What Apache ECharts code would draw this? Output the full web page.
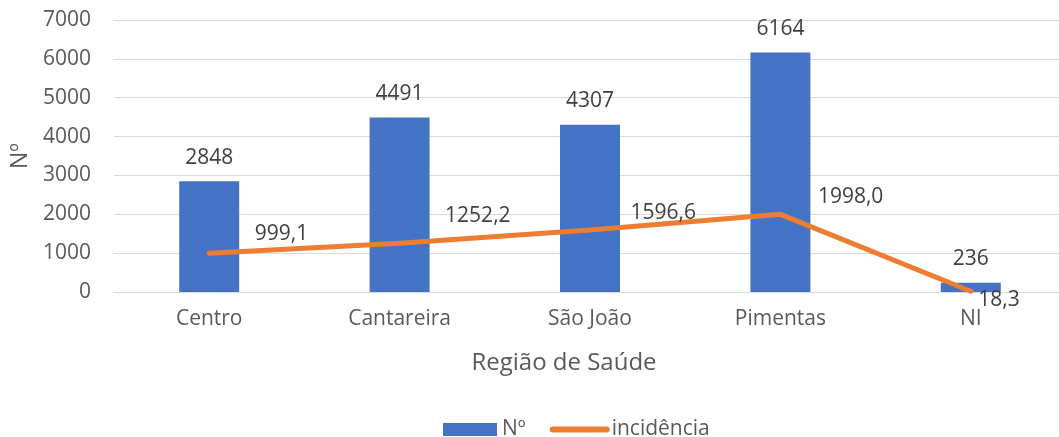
<!DOCTYPE html>
<html>
<head>
<meta charset="utf-8">
<script src="https://cdn.jsdelivr.net/npm/echarts@6/dist/echarts.min.js"></script>
<style>
  html, body { margin: 0; padding: 0; background: #fff; }
  #chart { width: 1059px; height: 437px; }
</style>
</head>
<body>
<div id="chart"></div>
<script>
// dados do gráfico
const regioes = ['Centro', 'Cantareira', 'São João', 'Pimentas', 'NI']
const casos = [2848, 4491, 4307, 6164, 236]
const incidencia = [999.1, 1252.2, 1596.6, 1998.0, 18.3]
const yTicks = [0, 1000, 2000, 3000, 4000, 5000, 6000, 7000]

// deslocamento dos rótulos da linha (só estilo)
const lineLabelOffset = [[0, -19], [0, -27], [-5, -17], [-8, -17], [-38, 9]]

const fonte = '"Open Sans", sans-serif'
const chart = echarts.init(document.getElementById('chart'))

chart.setOption({
    animation: false,
    textStyle: { fontFamily: fonte },
    grid: {
        left: 114,
        top: 20,
        width: 952,
        height: 272,
        outerBoundsMode: 'none',
    },
    legend: {
        bottom: -3,
        left: 443,
        padding: 0,
        itemWidth: 54,
        itemHeight: 13,
        itemGap: 24,
        textStyle: { fontSize: 21, color: '#595959', fontFamily: fonte },
        data: [
            { name: 'Nº', icon: 'rect' },
            { name: 'incidência', lineStyle: { width: 6, cap: 'round' } },
        ],
    },
    xAxis: {
        type: 'category',
        data: regioes,
        name: 'Região de Saúde',
        nameLocation: 'middle',
        nameGap: 59,
        nameTextStyle: { fontSize: 24, color: '#595959', padding: [0, 52, 0, 0] },
        axisLine: { lineStyle: { color: '#D9D9D9', width: 1 } },
        axisTick: { show: false },
        axisLabel: { fontSize: 21, color: '#595959', margin: 17 },
    },
    yAxis: {
        type: 'value',
        min: yTicks[0],
        max: yTicks[yTicks.length - 1],
        interval: 1000,
        name: 'Nº',
        nameLocation: 'middle',
        nameGap: 81,
        nameRotate: 90,
        nameTextStyle: { fontSize: 23, color: '#595959' },
        axisLabel: { fontSize: 21, color: '#595959', margin: 23, formatter: v => String(v) },
        splitLine: { lineStyle: { color: '#D9D9D9', width: 1 } },
    },
    series: [
        {
            name: 'Nº',
            type: 'bar',
            barWidth: 60,
            data: casos,
            itemStyle: { color: '#4472C4' },
            label: {
                show: true,
                position: 'top',
                distance: 13,
                fontSize: 21,
                color: '#404040',
            },
        },
        {
            name: 'incidência',
            type: 'line',
            data: incidencia.map((v, i) => ({
                value: v,
                label: { offset: lineLabelOffset[i] },
            })),
            symbol: 'circle',
            symbolSize: 1,
            z: 5,
            lineStyle: { color: '#ED7D31', width: 5, cap: 'round', join: 'round' },
            itemStyle: { color: 'rgba(0,0,0,0)', borderWidth: 0 },
            label: {
                show: true,
                position: 'right',
                distance: 45,
                fontSize: 21,
                color: '#404040',
                formatter: p => p.value.toFixed(1).replace('.', ','),
            },
        },
    ],
})
</script>
</body>
</html>
